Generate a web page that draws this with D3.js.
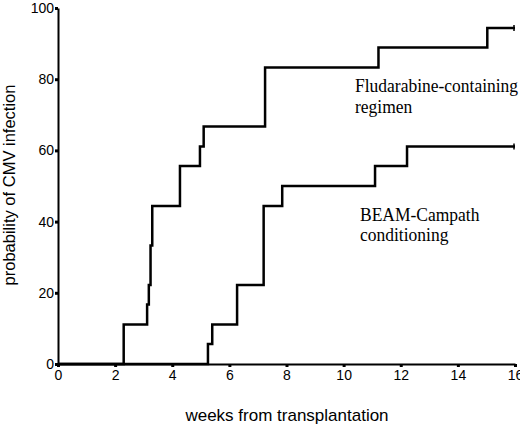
<!doctype html>
<html>
<head>
<meta charset="utf-8">
<title>CMV infection</title>
<style>
  body { margin:0; background:#fff; }
  svg { display:block; }
  .axis text { font-family:"Liberation Sans", Arial, sans-serif; font-size:14px; fill:#000; }
  .axis path { stroke:#000; stroke-width:2px; }
  .axis line { stroke:#000; stroke-width:3px; }
  .title { font-family:"Liberation Sans", Arial, sans-serif; fill:#000; }
  .note { font-family:"Liberation Serif", "Times New Roman", serif; font-size:17.5px; fill:#000; }
  .curve { fill:none; stroke:#000; stroke-width:2.5px; }
</style>
<script src="https://cdn.jsdelivr.net/npm/d3@7"></script>
</head>
<body>
<svg id="km" width="520" height="426"></svg>
<script>
// tick values
var weekTicks = [0, 2, 4, 6, 8, 10, 12, 14, 16]
var probTicks = [0, 20, 40, 60, 80, 100]

// Fludarabine-containing regimen (weeks, % infected)
var fludWeeks = [0, 2.3, 3.12, 3.18, 3.24, 3.3, 4.27, 4.97, 5.1, 7.25, 11.22, 15.03, 16]
var fludProb  = [0, 11.1, 16.7, 22.2, 33.3, 44.4, 55.6, 61.1, 66.7, 83.3, 88.9, 94.4, 94.4]

// BEAM-Campath conditioning
var beamWeeks = [0, 5.25, 5.4, 6.27, 7.2, 7.85, 11.1, 12.22, 16]
var beamProb  = [0, 5.6, 11.1, 22.2, 44.4, 50.0, 55.6, 61.1, 61.1]

var svg = d3.select("#km")

var x = d3.scaleLinear().domain([0, 16]).range([58, 515])
var y = d3.scaleLinear().domain([0, 100]).range([364, 8])

// axes
svg.append("g")
  .attr("class", "axis")
  .attr("transform", "translate(0,364)")
  .call(d3.axisBottom(x).tickValues(weekTicks).tickSize(3).tickSizeOuter(0).tickPadding(3))

svg.append("g")
  .attr("class", "axis")
  .attr("transform", "translate(58,0)")
  .call(d3.axisLeft(y).tickValues(probTicks).tickSize(3).tickSizeOuter(0).tickPadding(1))

// step curves
var line = d3.line()
  .x(function(d) { return x(d[0]) })
  .y(function(d) { return y(d[1]) })
  .curve(d3.curveStepAfter)

var curves = [
  { weeks: fludWeeks, prob: fludProb },
  { weeks: beamWeeks, prob: beamProb }
]

curves.forEach(function(c) {
  var pts = d3.zip(c.weeks, c.prob)
  svg.append("path").attr("class", "curve").attr("d", line(pts))
  // censor mark at the end
  var last = pts[pts.length - 1]
  svg.append("line")
    .attr("x1", x(last[0]) - 1).attr("x2", x(last[0]) - 1)
    .attr("y1", y(last[1]) - 3).attr("y2", y(last[1]) + 3)
    .style("stroke", "#000").style("stroke-width", 1.5)
})

// axis titles
svg.append("text")
  .attr("class", "title")
  .attr("transform", "translate(15,185) rotate(-90)")
  .attr("text-anchor", "middle")
  .style("font-size", "16.5px")
  .text("probability of CMV infection")

svg.append("text")
  .attr("class", "title")
  .attr("x", 287).attr("y", 421)
  .attr("text-anchor", "middle")
  .style("font-size", "17px")
  .text("weeks from transplantation")

// curve labels
var notes = [
  { t: "Fludarabine-containing", x: 355, y: 92 },
  { t: "regimen", x: 355, y: 113 },
  { t: "BEAM-Campath", x: 360, y: 221 },
  { t: "conditioning", x: 360, y: 241 }
]
notes.forEach(function(n) {
  svg.append("text")
    .attr("class", "note")
    .attr("transform", "translate(" + n.x + "," + n.y + ") scale(1,1.1)")
    .text(n.t)
})
</script>
</body>
</html>
